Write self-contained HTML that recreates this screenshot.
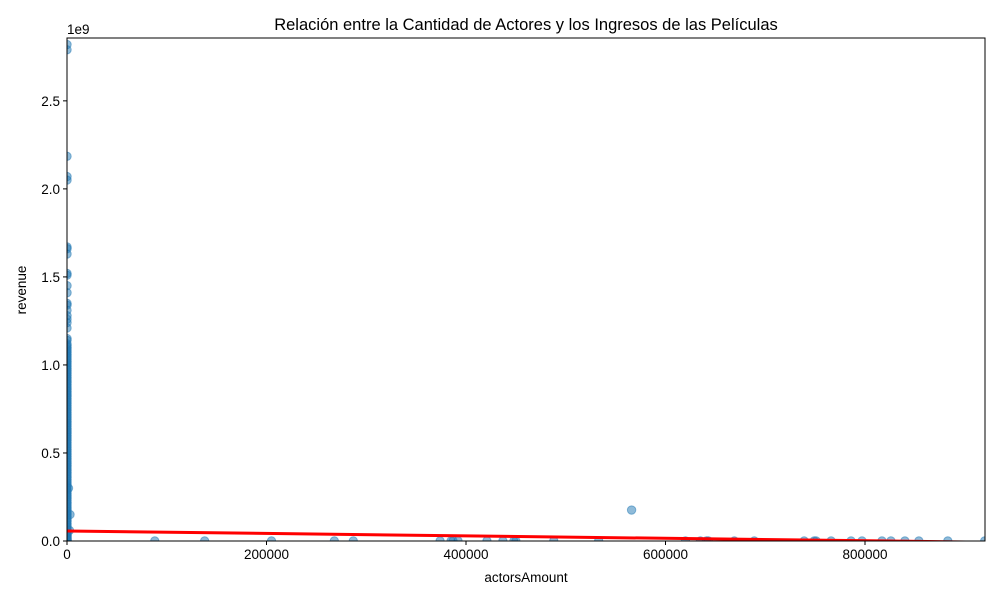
<!DOCTYPE html>
<html><head><meta charset="utf-8"><style>
body{margin:0;background:#fff;}
svg text{font-family:"Liberation Sans","DejaVu Sans",sans-serif;}
</style></head><body>
<svg id="chart" width="1000" height="600" viewBox="0 0 1000 600" xmlns="http://www.w3.org/2000/svg">
<rect width="1000" height="600" fill="#fff"/>
<text x="526" y="30" font-size="16.5" text-anchor="middle">Relación entre la Cantidad de Actores y los Ingresos de las Películas</text>
<g id="plot"></g>
<g id="axes"></g>
</svg>
<script>
const clusterActors = [12,25,8,30,18,22,40,15,35,10,28,45,20,33,16,50,27,38,14,42,24,19,31,11,36,26,48,17,29,23,39,13,44,21,34,9,47,32,37,41];
const clusterRevenueM = [2820,2790,2185,2070,2050,1670,1660,1630,1520,1510,1450,1410,1350,1340,1310,1280,1260,1240,1210,1150,1140,1120,1100,1080,1060,1040,1020,1000,980,960,940,920,900,880,860,840,820,800,780,760,
740,720,700,680,660,640,620,600,580,560,540,520,500,480,460,440,420,400,380,360,340,320,300,280,260,240,220,200,180,160,
150,140,130,120,110,100,90,80,70,60,50,45,40,35,30,25,20,15,10,5,3,1,
1110,1090,1070,1050,1030,1010,990,970,950,930,910,890,870,850,830,810,790,770,750,730,710,690,670,650,630,610,590,570,550,530,510,490,470,450,430,410,390,370,350,330,310,290,270,250,230,210,190,170];
const farActors = [1500,3000,2500,88000,138000,205000,268000,287000,374000,385000,387000,392000,421000,437000,448000,450000,488000,533000,566000,620000,635000,641000,643000,669000,689000,739000,749000,751000,766000,786000,797000,817000,826000,840000,854000,883000,920000];
const farRevenueM = [300,150,60,0,0,0,0,0,0,0,0,0,0,0,0,0,0,0,176,0,0,0,0,0,0,0,0,0,0,0,0,0,0,0,0,0,0];
const fitIntercept = 57;     // millions
const fitSlope = -0.0000695; // millions per actor
const xTicks = [0,200000,400000,600000,800000];
const yTicks = [0,0.5,1.0,1.5,2.0,2.5];

const L=67,R=985,T=38,B=541;
const xMax=920300, yMax=2.857;
const sx=v=>L+v/xMax*(R-L);
const sy=v=>B-v/yMax*(B-T); // v in 1e9
const NS='http://www.w3.org/2000/svg';
const plot=document.getElementById('plot'), axes=document.getElementById('axes');
function mk(tag,attrs,parent){const e=document.createElementNS(NS,tag);for(const k in attrs)e.setAttribute(k,attrs[k]);parent.appendChild(e);return e;}
const clip=mk('clipPath',{id:'clip'},plot);mk('rect',{x:L,y:T,width:R-L,height:B-T},clip);
const pts=mk('g',{'clip-path':'url(#clip)'},plot);
const ptStyle={r:4.2,fill:'#1f77b4','fill-opacity':0.5,stroke:'#1f77b4','stroke-opacity':0.5,'stroke-width':1};
clusterRevenueM.forEach((r,i)=>{
  const c=mk('circle',Object.assign({cx:sx(clusterActors[i%clusterActors.length]),cy:sy(r/1000)},ptStyle),pts);
  
  
});
farRevenueM.forEach((r,i)=>{
  const c=mk('circle',Object.assign({cx:sx(farActors[i]),cy:sy(r/1000)},ptStyle),pts);
  
  
});
const x1=0,x2=farActors[farActors.length-1];
const ln=mk('line',{x1:sx(x1),y1:sy((fitIntercept+fitSlope*x1)/1000),x2:sx(x2),y2:sy((fitIntercept+fitSlope*x2)/1000),stroke:'#ff0000','stroke-width':3},pts);


mk('rect',{x:L,y:T,width:R-L,height:B-T,fill:'none',stroke:'#000','stroke-width':1},axes);
xTicks.forEach(t=>{
  const x=sx(t);
  mk('line',{x1:x,y1:B,x2:x,y2:B+4,stroke:'#000'},axes);
  const tx=mk('text',{x:x,y:B+18,'font-size':13.5,'text-anchor':'middle'},axes);tx.textContent=t;
  
  
});
yTicks.forEach(t=>{
  const y=sy(t);
  mk('line',{x1:L-4,y1:y,x2:L,y2:y,stroke:'#000'},axes);
  const tx=mk('text',{x:L-7,y:y+5,'font-size':13.5,'text-anchor':'end'},axes);tx.textContent=t.toFixed(1);
  
  
});
const ex=mk('text',{x:67,y:34,'font-size':13.5},axes);ex.textContent='1e9';


const xl=mk('text',{x:526,y:582,'font-size':13.5,'text-anchor':'middle'},axes);xl.textContent='actorsAmount';


const yl=mk('text',{x:26,y:290,'font-size':13.5,'text-anchor':'middle',transform:'rotate(-90 26 290)'},axes);yl.textContent='revenue';


</script>
</body></html>
